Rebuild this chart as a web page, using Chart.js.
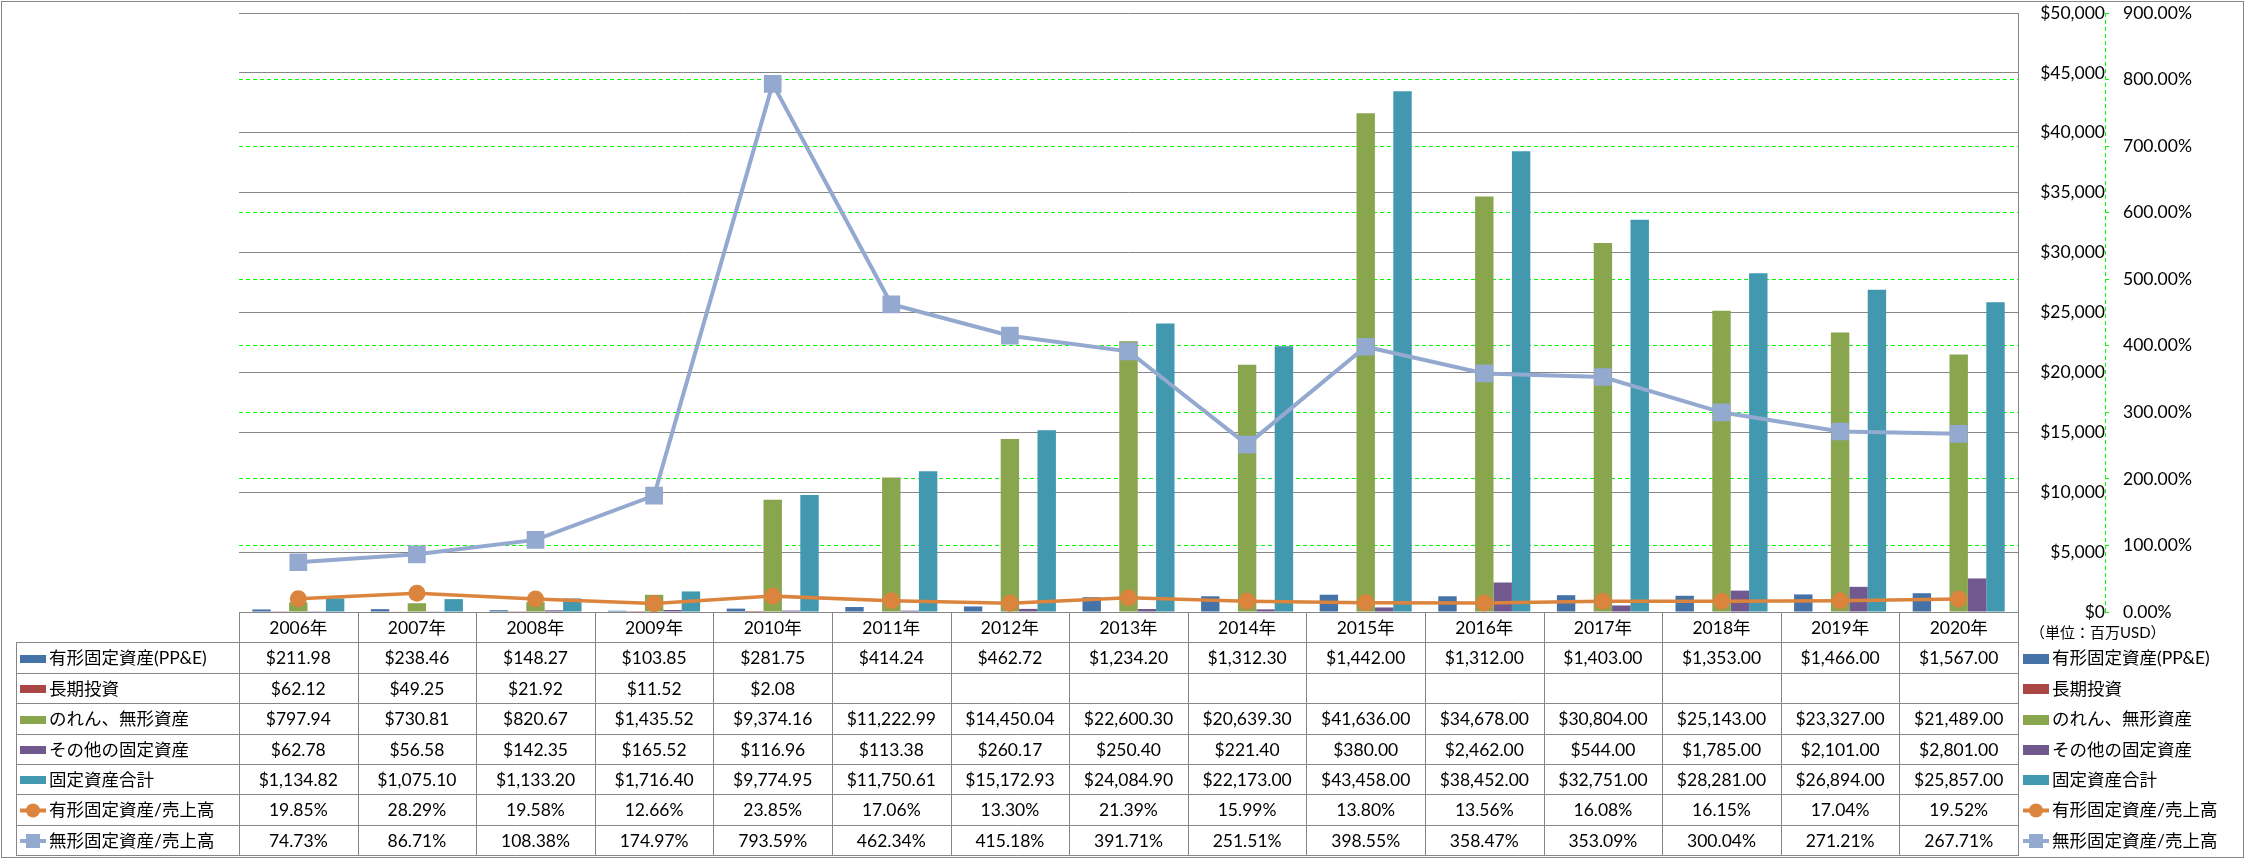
<!DOCTYPE html>
<html lang="ja">
<head>
<meta charset="utf-8">
<title>固定資産の推移</title>
<script src="https://cdn.jsdelivr.net/npm/chart.js@4.4.1/dist/chart.umd.min.js"></script>
<style>
    html, body { margin: 0; padding: 0; background: #ffffff; }
    #wrap { width: 2246px; height: 858px; }
</style>
</head>
<body>
<div id="wrap"><canvas id="assetChart" width="2246" height="858"></canvas></div>
<script>
// データ (単位: 百万USD / %)
const years = ['2006年', '2007年', '2008年', '2009年', '2010年', '2011年', '2012年', '2013年',
    '2014年', '2015年', '2016年', '2017年', '2018年', '2019年', '2020年'];

const ppeValues = [211.98, 238.46, 148.27, 103.85, 281.75, 414.24, 462.72, 1234.20,
    1312.30, 1442.00, 1312.00, 1403.00, 1353.00, 1466.00, 1567.00];
const longInvestValues = [62.12, 49.25, 21.92, 11.52, 2.08, null, null, null,
    null, null, null, null, null, null, null];
const goodwillValues = [797.94, 730.81, 820.67, 1435.52, 9374.16, 11222.99, 14450.04, 22600.30,
    20639.30, 41636.00, 34678.00, 30804.00, 25143.00, 23327.00, 21489.00];
const otherAssetValues = [62.78, 56.58, 142.35, 165.52, 116.96, 113.38, 260.17, 250.40,
    221.40, 380.00, 2462.00, 544.00, 1785.00, 2101.00, 2801.00];
const totalAssetValues = [1134.82, 1075.10, 1133.20, 1716.40, 9774.95, 11750.61, 15172.93, 24084.90,
    22173.00, 43458.00, 38452.00, 32751.00, 28281.00, 26894.00, 25857.00];

// 売上高比率 (%)
const ppeRatio = [19.85, 28.29, 19.58, 12.66, 23.85, 17.06, 13.30, 21.39,
    15.99, 13.80, 13.56, 16.08, 16.15, 17.04, 19.52];
const intangibleRatio = [74.73, 86.71, 108.38, 174.97, 793.59, 462.34, 415.18, 391.71,
    251.51, 398.55, 358.47, 353.09, 300.04, 271.21, 267.71];

// 軸の目盛
const moneyTicks = [0, 5000, 10000, 15000, 20000, 25000, 30000, 35000, 40000, 45000, 50000];
const percentTicks = [0, 100, 200, 300, 400, 500, 600, 700, 800, 900];

const FONT = 'Lato, "Noto Sans CJK JP", sans-serif';
const GRAY = '#868686';
const GREEN = '#00ff00';

// 系列 (表の行順)
const seriesRows = [
    { label: '有形固定資産(PP&E)', data: ppeValues, color: '#4572A7', type: 'bar' },
    { label: '長期投資', data: longInvestValues, color: '#AA4643', type: 'bar' },
    { label: 'のれん、無形資産', data: goodwillValues, color: '#89A54E', type: 'bar' },
    { label: 'その他の固定資産', data: otherAssetValues, color: '#71588F', type: 'bar' },
    { label: '固定資産合計', data: totalAssetValues, color: '#4198AF', type: 'bar' },
    { label: '有形固定資産/売上高', data: ppeRatio, color: '#DB843D', type: 'line', marker: 'circle' },
    { label: '無形固定資産/売上高', data: intangibleRatio, color: '#93A9CF', type: 'line', marker: 'rect' }
];

function formatMoney(v) {
    if (v === null || v === undefined) return '';
    return '$' + v.toLocaleString('en-US', { minimumFractionDigits: 2, maximumFractionDigits: 2 });
}

function formatPercent(v) {
    if (v === null || v === undefined) return '';
    return v.toFixed(2) + '%';
}

// 凡例マーカー
function drawKey(ctx, row, x1, x2, cy, barH) {
    ctx.save();
    if (row.type === 'bar') {
        ctx.fillStyle = row.color;
        ctx.fillRect(x1, Math.round(cy - barH / 2), x2 - x1, barH);
    } else {
        const mx = (x1 + x2) / 2;
        ctx.strokeStyle = row.color;
        ctx.lineWidth = 4;
        ctx.beginPath();
        ctx.moveTo(x1, cy);
        ctx.lineTo(x2, cy);
        ctx.stroke();
        ctx.fillStyle = row.color;
        if (row.marker === 'circle') {
            ctx.beginPath();
            ctx.arc(mx, cy, 7, 0, Math.PI * 2);
            ctx.fill();
        } else {
            ctx.fillRect(mx - 7, cy - 7, 14, 14);
        }
    }
    ctx.restore();
}

// 軸ラベルによる上下の余白を消す
function fixAxis(width) {
    return scale => {
        scale.width = width;
        scale.paddingTop = 0;
        scale.paddingBottom = 0;
    };
}

// データテーブル + 右側凡例 + 枠線
const dataTablePlugin = {
    id: 'dataTable',
    afterDraw(chart) {
        const ctx = chart.ctx;
        const area = chart.chartArea;
        const xs = chart.scales.x;
        const colW = (area.right - area.left) / years.length;
        const top = Math.round(area.bottom);
        const rowH = 30.4;
        const tableLeft = 16;
        const tableRight = Math.round(area.right);
        const rowY = [];
        for (let r = 0; r <= 8; r++) rowY.push(Math.round(top + r * rowH));

        ctx.save();

        // 第2軸の破線
        const y1 = chart.scales.y1;
        ctx.strokeStyle = GREEN;
        ctx.lineWidth = 1;
        ctx.setLineDash([4, 3]);
        ctx.beginPath();
        ctx.moveTo(Math.round(y1.left) + 0.5, area.top);
        ctx.lineTo(Math.round(y1.left) + 0.5, area.bottom);
        ctx.stroke();
        ctx.setLineDash([]);

        // 罫線
        ctx.strokeStyle = GRAY;
        ctx.lineWidth = 1;
        ctx.beginPath();
        ctx.moveTo(Math.round(area.left), rowY[0] + 0.5);
        ctx.lineTo(tableRight + 1, rowY[0] + 0.5);
        for (let r = 1; r <= 8; r++) {
            ctx.moveTo(tableLeft, rowY[r] + 0.5);
            ctx.lineTo(tableRight + 1, rowY[r] + 0.5);
        }
        for (let c = 0; c <= years.length; c++) {
            const x = Math.round(area.left + c * colW) + 0.5;
            ctx.moveTo(x, rowY[0]);
            ctx.lineTo(x, rowY[8]);
        }
        ctx.moveTo(tableLeft + 0.5, rowY[1]);
        ctx.lineTo(tableLeft + 0.5, rowY[8]);
        ctx.stroke();

        // 見出し (年)
        ctx.fillStyle = '#000000';
        ctx.font = '17.5px ' + FONT;
        ctx.textAlign = 'center';
        ctx.textBaseline = 'middle';
        years.forEach((y, i) => {
            ctx.fillText(y, xs.getPixelForValue(i), (rowY[0] + rowY[1]) / 2 + 1);
        });

        // 各行
        seriesRows.forEach((row, r) => {
            const cy = (rowY[r + 1] + rowY[r + 2]) / 2 + 1;
            drawKey(ctx, row, tableLeft + 4, tableLeft + 30, cy, 8);
            ctx.fillStyle = '#000000';
            ctx.textAlign = 'left';
            ctx.font = '17.5px ' + FONT;
            ctx.fillText(row.label, tableLeft + 33, cy);
            ctx.textAlign = 'center';
            const fmt = row.type === 'bar' ? formatMoney : formatPercent;
            row.data.forEach((v, i) => {
                ctx.fillText(fmt(v), xs.getPixelForValue(i), cy);
            });

            // 右側の凡例
            drawKey(ctx, row, tableRight + 5, tableRight + 31, cy, 10);
            ctx.fillStyle = '#000000';
            ctx.textAlign = 'left';
            ctx.fillText(row.label, tableRight + 34, cy);
        });

        // 単位
        ctx.font = '15px ' + FONT;
        ctx.textAlign = 'left';
        ctx.fillText('（単位：百万USD）', tableRight + 12, rowY[0] + 21);

        // 外枠
        ctx.strokeStyle = GRAY;
        ctx.strokeRect(1.5, 1.5, chart.width - 4, chart.height - 2);

        ctx.restore();
    }
};

const datasets = seriesRows.map(row => {
    if (row.type === 'bar') {
        return {
            type: 'bar',
            label: row.label,
            data: row.data,
            backgroundColor: row.color,
            borderWidth: 0,
            yAxisID: 'y',
            barPercentage: 1.0,
            categoryPercentage: 0.776,
            order: 2
        };
    }
    return {
        type: 'line',
        label: row.label,
        data: row.data,
        borderColor: row.color,
        backgroundColor: row.color,
        borderWidth: row.marker === 'circle' ? 3.5 : 4,
        pointStyle: row.marker,
        pointRadius: row.marker === 'circle' ? 8.5 : 12.5,
        pointBackgroundColor: row.color,
        pointBorderWidth: 0,
        tension: 0,
        yAxisID: 'y1',
        order: row.marker === 'circle' ? 1 : 0
    };
});

new Chart(document.getElementById('assetChart'), {
    type: 'bar',
    data: {
        labels: years,
        datasets: datasets
    },
    options: {
        responsive: false,
        animation: false,
        layout: {
            padding: { left: 239, top: 13, right: 31, bottom: 246 }
        },
        plugins: {
            legend: { display: false },
            tooltip: { enabled: false }
        },
        scales: {
            x: {
                display: false
            },
            y: {
                position: 'right',
                min: moneyTicks[0],
                max: moneyTicks[moneyTicks.length - 1],
                afterFit: fixAxis(87),
                ticks: {
                    stepSize: moneyTicks[1] - moneyTicks[0],
                    crossAlign: 'far',
                    padding: 18,
                    color: '#000000',
                    font: { family: FONT, size: 17.5 },
                    callback: v => '$' + Number(v).toLocaleString('en-US')
                },
                grid: {
                    color: GRAY,
                    lineWidth: 1,
                    drawTicks: false
                },
                border: { display: true, color: GRAY, width: 1 }
            },
            y1: {
                position: 'right',
                min: percentTicks[0],
                max: percentTicks[percentTicks.length - 1],
                afterFit: fixAxis(110),
                ticks: {
                    stepSize: percentTicks[1] - percentTicks[0],
                    padding: 14,
                    color: '#000000',
                    font: { family: FONT, size: 17.5 },
                    callback: v => Number(v).toFixed(2) + '%'
                },
                grid: {
                    // 最上段は主軸の灰色線を見せる
                    color: c => (c.tick && c.tick.value === percentTicks[percentTicks.length - 1]) ? 'rgba(0,0,0,0)' : GREEN,
                    lineWidth: 1,
                    drawTicks: true,
                    tickLength: 4,
                    tickColor: GREEN
                },
                border: { display: false, dash: [4, 3] }
            }
        }
    },
    plugins: [dataTablePlugin]
});
</script>
</body>
</html>
